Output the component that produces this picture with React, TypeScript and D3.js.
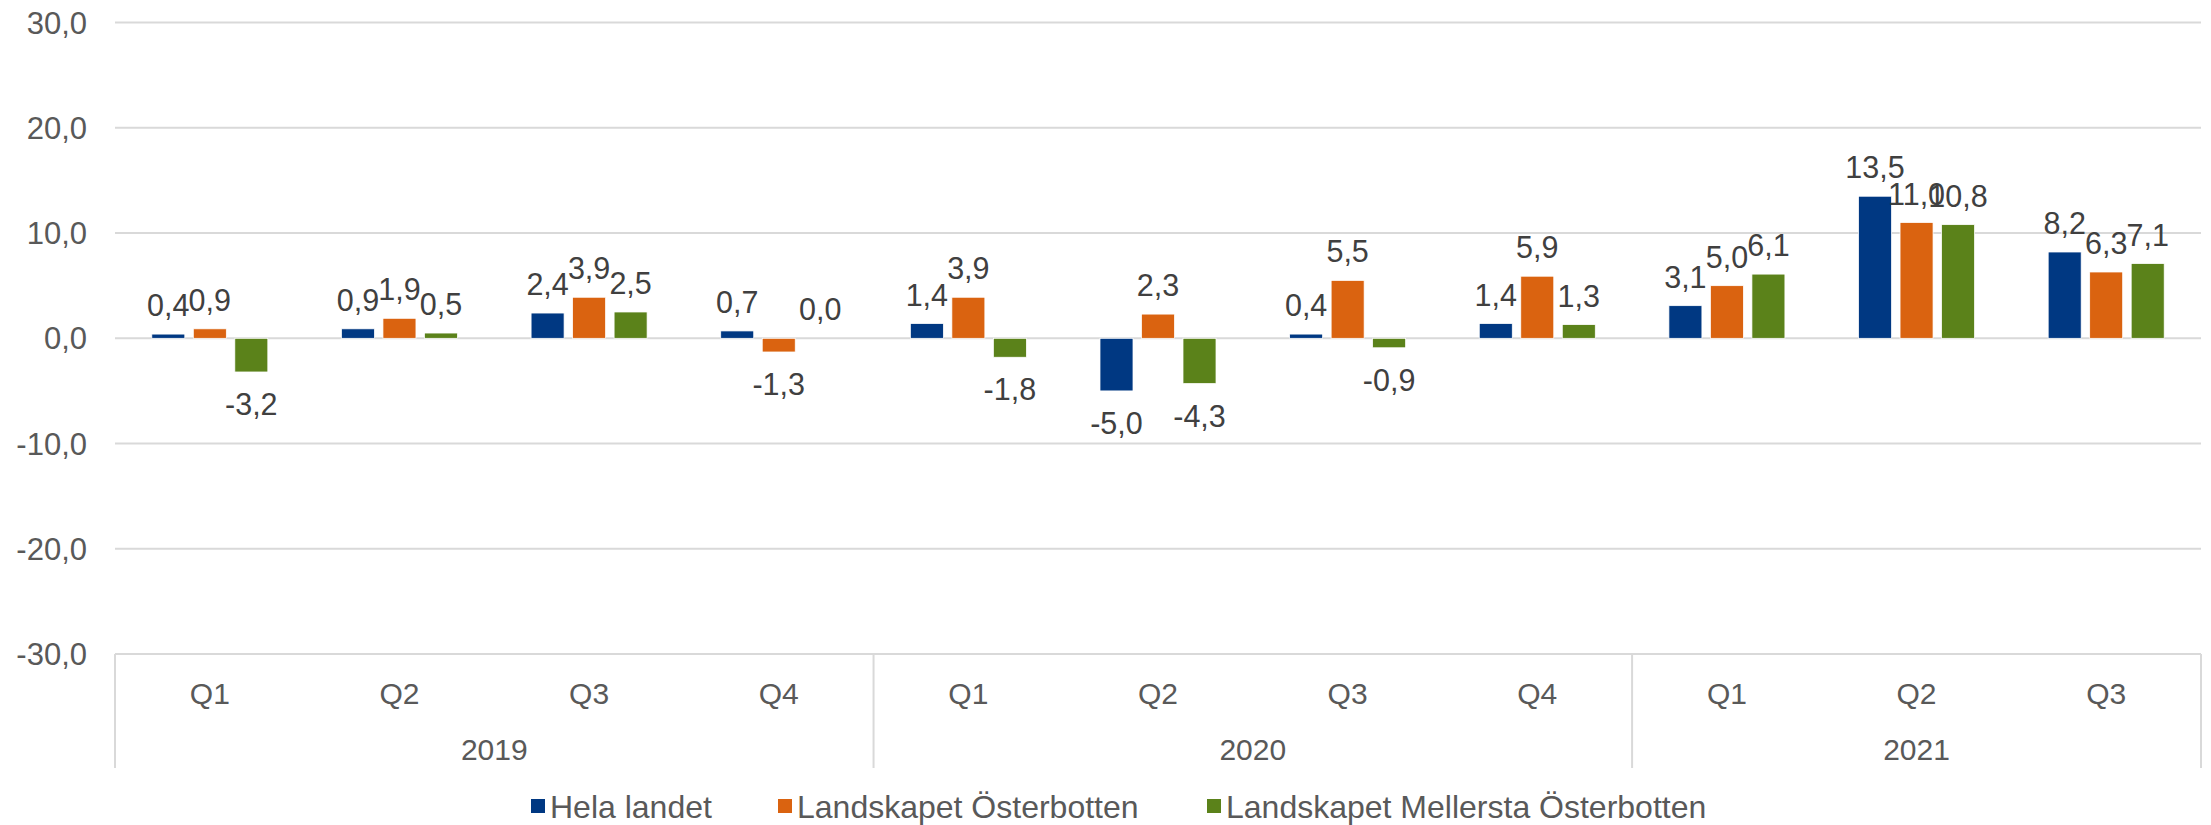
import React from 'react';
import * as d3 from 'd3';

// quarterly change, %
const quarters = ['Q1', 'Q2', 'Q3', 'Q4', 'Q1', 'Q2', 'Q3', 'Q4', 'Q1', 'Q2', 'Q3'];
const years = ['2019', '2020', '2021'];
const quartersPerYear = [4, 4, 3];

const seriesNames = ['Hela landet', 'Landskapet Österbotten', 'Landskapet Mellersta Österbotten'];
const helaLandet = [0.4, 0.9, 2.4, 0.7, 1.4, -5.0, 0.4, 1.4, 3.1, 13.5, 8.2];
const osterbotten = [0.9, 1.9, 3.9, -1.3, 3.9, 2.3, 5.5, 5.9, 5.0, 11.0, 6.3];
const mellersta = [-3.2, 0.5, 2.5, 0.0, -1.8, -4.3, -0.9, 1.3, 6.1, 10.8, 7.1];
const colors = ['#003882', '#DA6310', '#5B821A'];

const W = 2211;
const H = 825;
const FONT = '"Liberation Sans", Arial, sans-serif';

const fi = d3.formatLocale({ decimal: ',', thousands: ' ', grouping: [3], currency: ['', ''], minus: '-' });
const fmt = fi.format('.1f');

export default function App() {
  const values = [helaLandet, osterbotten, mellersta];

  const y = d3.scaleLinear().domain([-30, 30]).range([654, 22.6]);
  const x0 = d3.scaleBand<number>().domain(d3.range(quarters.length)).range([115, 2201]);
  const bw = x0.bandwidth();
  const x1 = d3.scaleBand<number>().domain([0, 1, 2]).range([0, bw]).paddingInner(0.205).paddingOuter(0.887);

  // year group boundaries
  const bounds: number[] = [0];
  quartersPerYear.forEach((n, i) => bounds.push(bounds[i] + n));
  const edge = (i: number) => (i < quarters.length ? x0(i)! : x0.range()[1]);

  // legend layout
  const legendX = [531, 778, 1207];

  return (
    <div style={{ position: 'fixed', left: 0, top: 0 }}>
      <svg width={W} height={H} style={{ display: 'block', background: '#fff' }} fontFamily={FONT}>
        {/* gridlines */}
        {y.ticks(6).map(t => (
          <g key={t}>
            <line x1={115} x2={2201} y1={y(t)} y2={y(t)} stroke="#D9D9D9" strokeWidth={2} />
            <text x={87} y={y(t) + 11} textAnchor="end" fontSize={31} fill="#595959">{fmt(t)}</text>
          </g>
        ))}

        {/* category axis separators */}
        {bounds.map(b => (
          <line key={b} x1={edge(b)} x2={edge(b)} y1={654} y2={768} stroke="#D9D9D9" strokeWidth={2} />
        ))}

        {/* bars */}
        {values.map((vals, s) => (
          <g key={s}>
            {vals.map((v, i) => {
              const bx = x0(i)! + x1(s)!;
              const top = y(Math.max(0, v));
              const h = Math.abs(y(v) - y(0));
              return (
                <g key={i}>
                  <rect x={bx} y={top} width={x1.bandwidth()} height={Math.max(h, 0)} fill={colors[s]}
                    stroke="#fff" strokeWidth={0.75} />
                  <text x={bx + x1.bandwidth() / 2} y={v < 0 ? y(v) + 43 : y(v) - 18}
                    textAnchor="middle" fontSize={30.5} fill="#404040">{fmt(v)}</text>
                </g>
              );
            })}
          </g>
        ))}

        {/* quarter labels */}
        {quarters.map((q, i) => (
          <text key={i} x={x0(i)! + bw / 2} y={703.5} textAnchor="middle" fontSize={30} fill="#595959">{q}</text>
        ))}

        {/* year labels */}
        {years.map((yr, i) => (
          <text key={yr} x={(edge(bounds[i]) + edge(bounds[i + 1])) / 2} y={759.5} textAnchor="middle"
            fontSize={30} fill="#595959">{yr}</text>
        ))}

        {/* legend */}
        {seriesNames.map((n, s) => (
          <g key={n}>
            <rect x={legendX[s]} y={799} width={14} height={14} fill={colors[s]} />
            <text x={legendX[s] + 19} y={818} fontSize={32} fill="#595959">{n}</text>
          </g>
        ))}
      </svg>
    </div>
  );
}
